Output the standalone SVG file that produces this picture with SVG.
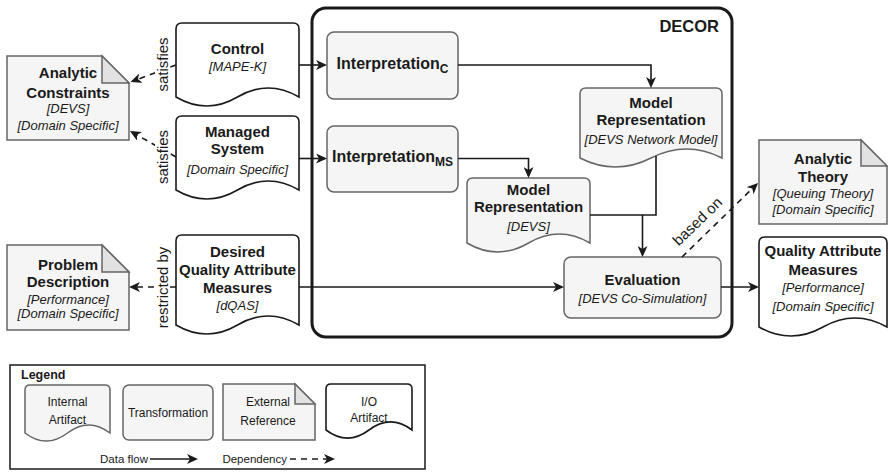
<svg xmlns="http://www.w3.org/2000/svg" width="888" height="472" viewBox="0 0 888 472">
  <defs>
    <marker id="arrow" markerUnits="userSpaceOnUse" markerWidth="12" markerHeight="10" refX="9" refY="5" orient="auto">
      <path d="M0,0 L11,5 L0,10 L3,5 Z" fill="#1a1a1a"/>
    </marker>
    <style>
      text { font-family: "Liberation Sans", Arial, Helvetica, sans-serif; fill: #1a1a1a; }
      .t { font-size: 15px; font-weight: bold; text-anchor: middle; }
      .ti { font-size: 16px; font-weight: bold; text-anchor: middle; }
      .sub { font-size: 12px; font-weight: bold; }
      .i { font-size: 13px; font-style: italic; text-anchor: middle; }
      .lbl { font-size: 15px; text-anchor: middle; }
      .lg { font-size: 12px; text-anchor: middle; }
      .lgs { font-size: 11.5px; text-anchor: end; }
      .internal { fill: #f5f5f5; stroke: #666666; stroke-width: 1.5; }
      .io { fill: #ffffff; stroke: #1a1a1a; stroke-width: 1.6; }
      .ext { fill: #f5f5f5; stroke: #666666; stroke-width: 1.5; }
      .fold { fill: #e2e2e2; stroke: #666666; stroke-width: 1.5; }
      .flow { fill: none; stroke: #1a1a1a; stroke-width: 1.6; }
      .dep { fill: none; stroke: #1a1a1a; stroke-width: 1.6; stroke-dasharray: 6 5; }
    </style>
  </defs>

  <!-- DECOR container -->
  <g id="decor">
    <rect x="312" y="8" width="420" height="329" rx="14" fill="none" stroke="#1a1a1a" stroke-width="3"/>
    <text x="719" y="32" style="font-size:16.5px;font-weight:bold;text-anchor:end">DECOR</text>
  </g>

  <!-- external references -->
  <g id="analytic-constraints">
    <path class="ext" d="M7,56 H102 L129,83 V140 H7 Z"/>
    <path class="fold" d="M102,56 V83 H129 Z"/>
    <text class="t" x="68" y="78">Analytic</text>
    <text class="t" x="68" y="97.5">Constraints</text>
    <text class="i" x="68" y="112.5">[DEVS]</text>
    <text class="i" x="68" y="129.5">[Domain Specific]</text>
  </g>
  <g id="problem-description">
    <path class="ext" d="M7,245 H102 L129,272 V330 H7 Z"/>
    <path class="fold" d="M102,245 V272 H129 Z"/>
    <text class="t" x="68" y="270">Problem</text>
    <text class="t" x="68" y="286.5">Description</text>
    <text class="i" x="68" y="303.5">[Performance]</text>
    <text class="i" x="68" y="318">[Domain Specific]</text>
  </g>
  <g id="analytic-theory">
    <path class="ext" d="M759,140 H861 L887,166 V224 H759 Z"/>
    <path class="fold" d="M861,140 V166 H887 Z"/>
    <text class="t" x="823" y="164">Analytic</text>
    <text class="t" x="823" y="181.5">Theory</text>
    <text class="i" x="823" y="197.5">[Queuing Theory]</text>
    <text class="i" x="823" y="213.5">[Domain Specific]</text>
  </g>

  <!-- I/O artifacts -->
  <g id="control">
    <path class="io" d="M176,29 Q176,23 182,23 H293 Q299,23 299,29 V97 Q268.25,79 237.5,97 Q206.75,115 176,97 Z"/>
    <text class="t" x="237.5" y="54">Control</text>
    <text class="i" x="237.5" y="71">[MAPE-K]</text>
  </g>
  <g id="managed-system">
    <path class="io" d="M176,122 Q176,116 182,116 H293 Q299,116 299,122 V190 Q268.25,172 237.5,190 Q206.75,208 176,190 Z"/>
    <text class="t" x="237.5" y="136.5">Managed</text>
    <text class="t" x="237.5" y="154">System</text>
    <text class="i" x="237.5" y="174">[Domain Specific]</text>
  </g>
  <g id="desired-qam">
    <path class="io" d="M176,241 Q176,235 182,235 H293 Q299,235 299,241 V325 Q268.25,307 237.5,325 Q206.75,343 176,325 Z"/>
    <text class="t" x="237.5" y="257">Desired</text>
    <text class="t" x="237.5" y="274.5">Quality Attribute</text>
    <text class="t" x="237.5" y="292.5">Measures</text>
    <text class="i" x="237.5" y="309.5">[dQAS]</text>
  </g>
  <g id="qam">
    <path class="io" d="M759,243 Q759,237 765,237 H881 Q887,237 887,243 V327 Q855,309 823,327 Q791,345 759,327 Z"/>
    <text class="t" x="823" y="255.5">Quality Attribute</text>
    <text class="t" x="823" y="275">Measures</text>
    <text class="i" x="823" y="292">[Performance]</text>
    <text class="i" x="823" y="310.5">[Domain Specific]</text>
  </g>

  <!-- transformations -->
  <g id="interpretation-c">
    <rect class="internal" x="327" y="32" width="131" height="67" rx="7"/>
    <text class="ti" x="392.5" y="69">Interpretation<tspan class="sub" dy="4">C</tspan></text>
  </g>
  <g id="interpretation-ms">
    <rect class="internal" x="327" y="126" width="131" height="66" rx="7"/>
    <text class="ti" x="392.5" y="162">Interpretation<tspan class="sub" dy="4">MS</tspan></text>
  </g>
  <g id="evaluation">
    <rect class="internal" x="564" y="257" width="157" height="61" rx="7"/>
    <text class="t" x="642.5" y="285">Evaluation</text>
    <text class="i" x="642.5" y="303">[DEVS Co-Simulation]</text>
  </g>

  <!-- internal artifacts -->
  <g id="model-network">
    <path class="internal" d="M580,94 Q580,88 586,88 H716 Q722,88 722,94 V158 Q686.5,140 651,158 Q615.5,176 580,158 Z"/>
    <text class="t" x="651" y="108">Model</text>
    <text class="t" x="651" y="124.5">Representation</text>
    <text class="i" x="651" y="144">[DEVS Network Model]</text>
  </g>
  <g id="model-devs">
    <path class="internal" d="M467,184 Q467,178 473,178 H584 Q590,178 590,184 V243 Q559.25,225 528.5,243 Q497.75,261 467,243 Z"/>
    <text class="t" x="528.5" y="195">Model</text>
    <text class="t" x="528.5" y="211.5">Representation</text>
    <text class="i" x="528.5" y="231">[DEVS]</text>
  </g>

  <!-- connectors -->
  <g id="connectors">
    <path class="flow" d="M299,65 H325" marker-end="url(#arrow)"/>
    <path class="flow" d="M299,158.5 H325" marker-end="url(#arrow)"/>
    <path class="flow" d="M458,65 H651 V86" marker-end="url(#arrow)"/>
    <path class="flow" d="M458,158.5 H528.5 V176" marker-end="url(#arrow)"/>
    <path class="flow" d="M656,156 V215 H642.5"/>
    <path class="flow" d="M590,215 H642.5 V255" marker-end="url(#arrow)"/>
    <path class="flow" d="M299,287 H562" marker-end="url(#arrow)"/>
    <path class="flow" d="M721,287 H757" marker-end="url(#arrow)"/>

    <path class="dep" d="M176,65 L132.4,81.3" marker-end="url(#arrow)"/>
    <path class="dep" d="M176,157 L131.7,132" marker-end="url(#arrow)"/>
    <path class="dep" d="M176,287 H131" marker-end="url(#arrow)"/>
    <path class="dep" d="M682,257 L756.6,184.4" marker-end="url(#arrow)"/>

    <rect x="155" y="38" width="15" height="53" fill="#ffffff"/>
    <text class="lbl" x="168" y="64.5" transform="rotate(-90 168 64.5)">satisfies</text>
    <rect x="155" y="130" width="15" height="54" fill="#ffffff"/>
    <text class="lbl" x="168" y="157" transform="rotate(-90 168 157)">satisfies</text>
    <rect x="155" y="246" width="15" height="83" fill="#ffffff"/>
    <text class="lbl" x="168" y="287.5" transform="rotate(-90 168 287.5)">restricted by</text>
    <text class="lbl" x="701" y="225" transform="rotate(-44.2 701 225)">based on</text>
  </g>

  <!-- legend -->
  <g id="legend">
    <rect x="10" y="365" width="415" height="104" fill="#ffffff" stroke="#1a1a1a" stroke-width="1.5"/>
    <text x="21" y="379" style="font-size:12.5px;font-weight:bold">Legend</text>
    <g id="legend-internal">
      <path class="internal" d="M25,390 Q25,385 30,385 H105 Q110,385 110,390 V433 Q88.75,416.8 67.5,433 Q46.25,449.2 25,433 Z"/>
      <text class="lg" x="67.5" y="406">Internal</text>
      <text class="lg" x="67.5" y="424">Artifact</text>
    </g>
    <g id="legend-transformation">
      <rect class="internal" x="123" y="385" width="90" height="55" rx="6"/>
      <text class="lg" x="168" y="417">Transformation</text>
    </g>
    <g id="legend-external">
      <path class="ext" d="M223,384 H295 L315,404 V440 H223 Z"/>
      <path class="fold" d="M295,384 V404 H315 Z"/>
      <text class="lg" x="268" y="406">External</text>
      <text class="lg" x="268" y="425">Reference</text>
    </g>
    <g id="legend-io">
      <path class="io" d="M326,389 Q326,384 331,384 H407 Q412,384 412,389 V430 Q390.5,413.8 369,430 Q347.5,446.2 326,430 Z"/>
      <text class="lg" x="369" y="406">I/O</text>
      <text class="lg" x="369" y="422">Artifact</text>
    </g>
    <text class="lgs" x="148" y="463">Data flow</text>
    <path class="flow" d="M150,459 H196" marker-end="url(#arrow)"/>
    <text class="lgs" x="287" y="463">Dependency</text>
    <path class="dep" d="M290,459 H333" marker-end="url(#arrow)"/>
  </g>
</svg>
